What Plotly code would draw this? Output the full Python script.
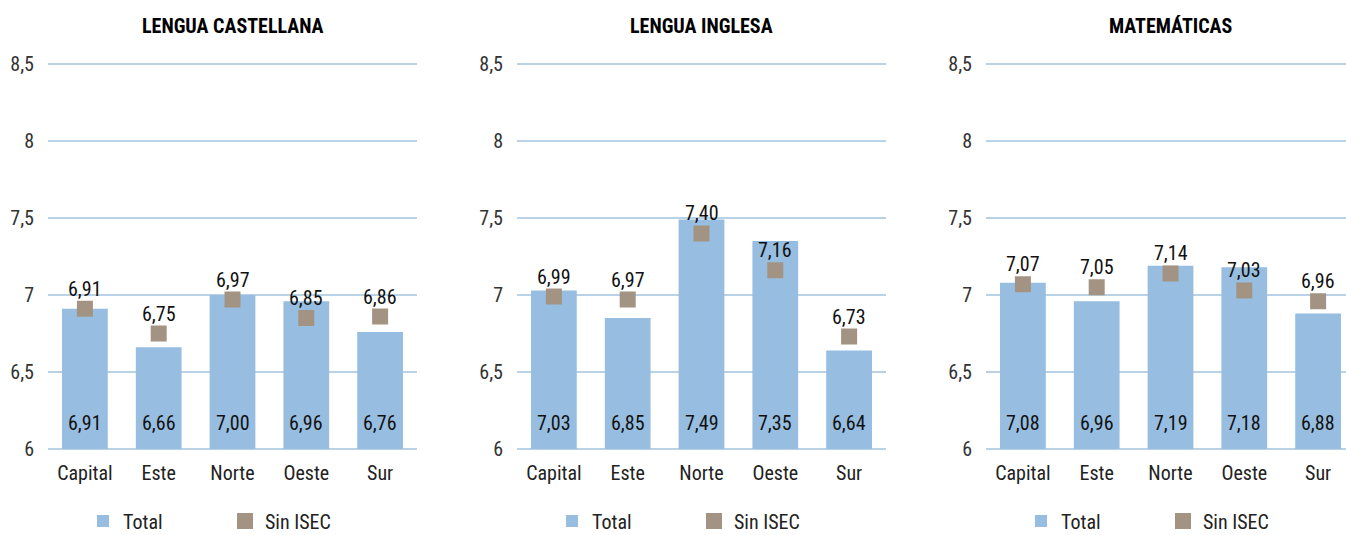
import plotly.graph_objects as go

categories = ["Capital", "Este", "Norte", "Oeste", "Sur"]
subjects = ["LENGUA CASTELLANA", "LENGUA INGLESA", "MATEMÁTICAS"]

total_castellana = [6.91, 6.66, 7.00, 6.96, 6.76]
sin_isec_castellana = [6.91, 6.75, 6.97, 6.85, 6.86]

total_inglesa = [7.03, 6.85, 7.49, 7.35, 6.64]
sin_isec_inglesa = [6.99, 6.97, 7.40, 7.16, 6.73]

total_matematicas = [7.08, 6.96, 7.19, 7.18, 6.88]
sin_isec_matematicas = [7.07, 7.05, 7.14, 7.03, 6.96]

y_ticks = [6, 6.5, 7, 7.5, 8, 8.5]

totals = [total_castellana, total_inglesa, total_matematicas]
sins = [sin_isec_castellana, sin_isec_inglesa, sin_isec_matematicas]

W, H = 1346, 535
FONT = "Liberation Sans Narrow, Roboto Condensed, Arial Narrow, sans-serif"
BAR_COLOR = "#97bee0"
MARK_COLOR = "#a39382"
GRID_COLOR = "#b9d2e6"

# pixel layout of plot areas
x_px = [(48, 417), (517, 886), (986, 1355)]
y_top_px, y_bot_px = 64, 449
Y0, Y1 = 6, 8.5
pad = 0.012

fig = go.Figure()

def fmt(v):
    return f"{v:.2f}".replace(".", ",")

annotations = []
for i in range(3):
    xa = "x" if i == 0 else f"x{i+1}"
    ya = "y" if i == 0 else f"y{i+1}"
    lg = "legend" if i == 0 else f"legend{i+1}"
    fig.add_trace(go.Bar(
        x=categories, y=[v - Y0 for v in totals[i]], base=Y0,
        marker=dict(color=BAR_COLOR, line=dict(width=0)),
        width=0.62, name="Total", xaxis=xa, yaxis=ya, legend=lg,
        hoverinfo="skip",
    ))
    fig.add_trace(go.Scatter(
        x=categories, y=sins[i], mode="markers",
        marker=dict(symbol="square", size=16, color=MARK_COLOR),
        name="Sin ISEC", xaxis=xa, yaxis=ya, legend=lg, hoverinfo="skip",
    ))
    for c, tv, sv in zip(categories, totals[i], sins[i]):
        annotations.append(dict(
            x=c, y=Y0, xref=xa, yref=ya, text=fmt(tv), showarrow=False,
            yanchor="bottom", yshift=12,
            font=dict(family=FONT, size=20, color="#111111"),
        ))
        annotations.append(dict(
            x=c, y=sv, xref=xa, yref=ya, text=fmt(sv), showarrow=False,
            yanchor="middle", yshift=20,
            font=dict(family=FONT, size=20, color="#111111"),
        ))
    x0, x1 = x_px[i]
    annotations.append(dict(
        x=(x0 + x1) / 2 / W, y=1 - 26 / H, xref="paper", yref="paper",
        text=f"<b>{subjects[i]}</b>", showarrow=False,
        xanchor="center", yanchor="middle",
        font=dict(family=FONT, size=20, color="#000000"),
    ))

layout = dict(
    width=W, height=H,
    margin=dict(l=0, r=0, t=0, b=0, autoexpand=False),
    paper_bgcolor="white", plot_bgcolor="white",
    separators=",.",
    showlegend=True,
    annotations=annotations,
    font=dict(family=FONT, size=19, color="#222222"),
)

span = Y1 - Y0
ppu = (y_bot_px - y_top_px) / span
ydom = [1 - (y_bot_px + pad * ppu) / H, 1 - (y_top_px - pad * ppu) / H]
for i in range(3):
    x0, x1 = x_px[i]
    sfx = "" if i == 0 else str(i + 1)
    dom_end = min(x1 / W, 1.0)
    rng_end = -0.5 + 5 * (min(x1, W) - x0) / (x1 - x0)
    layout[f"xaxis{sfx}"] = dict(
        domain=[x0 / W, dom_end], range=[-0.5, rng_end],
        anchor=f"y{sfx}", showgrid=False, zeroline=False, showline=False,
        ticks="", tickfont=dict(family=FONT, size=20, color="#222222"),
        ticklabelstandoff=8, fixedrange=True,
    )
    layout[f"yaxis{sfx}"] = dict(
        domain=ydom, range=[Y0 - pad, Y1 + pad], anchor=f"x{sfx}",
        tickvals=y_ticks, ticks="", showgrid=True, gridcolor=GRID_COLOR,
        gridwidth=2, zeroline=False, showline=False,
        tickfont=dict(family=FONT, size=20, color="#333333"),
        ticklabelstandoff=13, fixedrange=True,
    )
    layout["legend" + sfx] = dict(
        orientation="h", x=(x0 + 35) / W, y=1 - 521 / H,
        xanchor="left", yanchor="middle",
        font=dict(family=FONT, size=20, color="#222222"),
        entrywidth=97, entrywidthmode="pixels",
        bgcolor="rgba(0,0,0,0)", itemclick=False, itemdoubleclick=False,
    )

fig.update_layout(**layout)
fig.write_html(
    "out.html",
    config={"displayModeBar": False},
    post_script="document.body.style.margin='0';document.body.style.overflow='hidden';",
)
